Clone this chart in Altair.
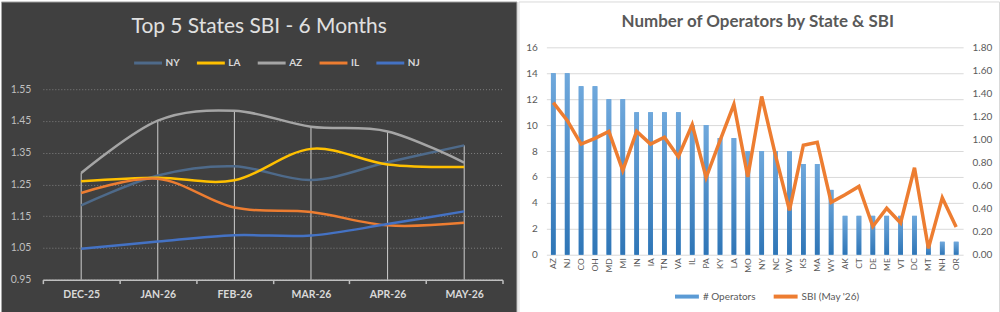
import altair as alt
import pandas as pd

FONT = "Lato"

# ---------------- Left panel data ----------------
months = ["DEC-25", "JAN-26", "FEB-26", "MAR-26", "APR-26", "MAY-26"]
top_states = ["NY", "LA", "AZ", "IL", "NJ"]
ny = [1.184, 1.278, 1.307, 1.264, 1.320, 1.373]
la = [1.260, 1.271, 1.263, 1.362, 1.313, 1.305]
az = [1.286, 1.451, 1.482, 1.432, 1.417, 1.319]
il = [1.223, 1.268, 1.177, 1.163, 1.121, 1.129]
nj = [1.047, 1.070, 1.090, 1.089, 1.125, 1.165]
top_colors = ["#4E6A8A", "#FFC000", "#A5A5A5", "#ED7D31", "#4472C4"]
left_ticks = [0.95, 1.05, 1.15, 1.25, 1.35, 1.45, 1.55]
left_title = "Top 5 States SBI - 6 Months"

# ---------------- Right panel data ----------------
states = ["AZ", "NJ", "CO", "OH", "MD", "MI", "IN", "IA", "TN", "VA", "IL", "PA", "KY", "LA", "MO",
          "NY", "NC", "WV", "KS", "MA", "WY", "AK", "CT", "DE", "ME", "VT", "DC", "MT", "NH", "OR"]
operators = [14, 14, 13, 13, 12, 12, 11, 11, 11, 11, 10, 10, 9, 9, 8,
             8, 8, 8, 7, 7, 5, 3, 3, 3, 3, 3, 3, 1, 1, 1]
sbi_may = [1.32, 1.165, 0.96, 1.01, 1.07, 0.73, 1.07, 0.96, 1.02, 0.85, 1.129, 0.67, 0.99, 1.305, 0.675,
           1.373, 0.86, 0.385, 0.95, 0.975, 0.455, 0.52, 0.593, 0.245, 0.403, 0.275, 0.755, 0.055, 0.495, 0.24]
ops_ticks = [0, 2, 4, 6, 8, 10, 12, 14, 16]
sbi_ticks = [0.0, 0.2, 0.4, 0.6, 0.8, 1.0, 1.2, 1.4, 1.6, 1.8]
legend_items = ["# Operators", "SBI (May '26)"]
legend_colors = ["#5B9BD5", "#ED7D31"]
right_title = "Number of Operators by State & SBI"

rows = []
for name, vals in zip(top_states, [ny, la, az, il, nj]):
    for m, v in zip(months, vals):
        rows.append({"Month": m, "State": name, "SBI": v})
trend = pd.DataFrame(rows)
ops_bar = pd.DataFrame({"State": states, "Operators": operators, "Series": legend_items[0]})
ops_line = pd.DataFrame({"State": states, "SBI": sbi_may, "Series": legend_items[1]})

# ---------------- Left chart ----------------
LW, LH = 517, 312
lx_scale = alt.Scale(type="band", domain=months, range=[42, 503], paddingInner=0, paddingOuter=0)
lx_axis = alt.Axis(orient="bottom", offset=-33, tickBand="extent", tickSize=4, tickColor="#BFBFBF",
                   domainColor="#BFBFBF", domainWidth=1.5, tickWidth=1.5, labelColor="#D9D9D9",
                   labelFont=FONT, labelFontSize=10.5, labelFontWeight="bold", labelPadding=6,
                   labelAngle=0, grid=False, title=None)
ly_scale = alt.Scale(domain=[0.95, 1.55], range=[279, 88], nice=False, zero=False)
ly_axis = alt.Axis(orient="left", offset=-30, values=left_ticks, format=".2f", domain=False, ticks=False,
                   labelPadding=0, labelColor="#BFBFBF", labelFont=FONT, labelFontSize=10.5,
                   grid=True, gridColor="#808080", gridDash=[1, 2], gridWidth=1, title=None)

drops = alt.Chart(trend).transform_aggregate(
    top="max(SBI)", groupby=["Month"]
).mark_rule(color="#CFCFCF", strokeWidth=1).encode(
    x=alt.X("Month:N", sort=months, scale=lx_scale, axis=lx_axis, bandPosition=0.5),
    y=alt.Y("top:Q", scale=ly_scale, axis=ly_axis),
    y2=alt.datum(0.95),
)

lines = alt.Chart(trend).mark_line(interpolate="cardinal", strokeWidth=2.5).encode(
    x=alt.X("Month:N", sort=months, scale=lx_scale, axis=lx_axis, bandPosition=0.5),
    y=alt.Y("SBI:Q", scale=ly_scale, axis=ly_axis),
    color=alt.Color("State:N", sort=top_states,
                    scale=alt.Scale(domain=top_states, range=top_colors),
                    legend=alt.Legend(orient="none", legendX=132, legendY=46, direction="horizontal",
                                      title=None, symbolType="stroke", symbolSize=784,
                                      symbolStrokeWidth=3, labelColor="#D9D9D9", labelFont=FONT,
                                      labelFontSize=10, labelFontWeight="bold", labelOffset=2,
                                      columnPadding=10)),
)

ltitle = alt.Chart(pd.DataFrame({"t": [left_title]})).mark_text(
    font=FONT, fontSize=21, color="#E0E0E0", align="center", baseline="middle"
).encode(text="t:N", x=alt.value(259), y=alt.value(26))

left = alt.layer(drops, lines, ltitle).properties(
    width=LW, height=LH,
    view=alt.ViewBackground(fill="#404040", stroke="#A6A6A6", strokeWidth=1),
)

# ---------------- Right chart ----------------
RW, RH = 482, 312
rx_scale = alt.Scale(type="band", domain=states, range=[28, 446], paddingInner=0.66, paddingOuter=0.33)
rx_axis = alt.Axis(orient="bottom", offset=-58, labelAngle=-90, labelPadding=3, ticks=False, domain=False,
                   grid=False, labelColor="#595959", labelFont=FONT, labelFontSize=8.5, title=None)
ops_scale = alt.Scale(domain=[0, 16], range=[254, 46], nice=False)
ops_axis = alt.Axis(orient="left", offset=-19, values=ops_ticks, labelPadding=0, ticks=False, domain=False,
                    grid=True, gridColor="#D9D9D9", gridWidth=1, labelColor="#595959", labelFont=FONT,
                    labelFontSize=10, title=None)
sbi_scale = alt.Scale(domain=[0, 1.8], range=[254, 46], nice=False)
sbi_axis = alt.Axis(orient="right", offset=-27, values=sbi_ticks, format=".2f", labelPadding=0, ticks=False,
                    domain=False, grid=False, labelColor="#595959", labelFont=FONT, labelFontSize=10,
                    title=None)
color_scale = alt.Scale(domain=legend_items, range=legend_colors)
r_legend = alt.Legend(orient="none", legendX=155, legendY=282, direction="horizontal", title=None,
                      symbolType="stroke", symbolSize=576, symbolStrokeWidth=4, labelColor="#595959",
                      labelFont=FONT, labelFontSize=10, labelOffset=2, columnPadding=10)

bars = alt.Chart(ops_bar).mark_bar().encode(
    x=alt.X("State:N", sort=states, scale=rx_scale, axis=rx_axis),
    y=alt.Y("Operators:Q", scale=ops_scale, axis=ops_axis),
    color=alt.Color("Series:N", scale=color_scale, legend=r_legend),
)
bars_grad = alt.Chart(ops_bar).mark_bar(
    color=alt.LinearGradient(gradient="linear",
                             stops=[alt.GradientStop(color="#6FA8DC", offset=0),
                                    alt.GradientStop(color="#2E75B6", offset=1)],
                             x1=0, x2=0, y1=0, y2=1)
).encode(
    x=alt.X("State:N", sort=states, scale=rx_scale, axis=rx_axis),
    y=alt.Y("Operators:Q", scale=ops_scale, axis=None),
)
sbi_line = alt.Chart(ops_line).mark_line(strokeWidth=3.5).encode(
    x=alt.X("State:N", sort=states, scale=rx_scale, axis=rx_axis, bandPosition=0.5),
    y=alt.Y("SBI:Q", scale=sbi_scale, axis=sbi_axis),
    color=alt.Color("Series:N", scale=color_scale, legend=r_legend),
)
rtitle = alt.Chart(pd.DataFrame({"t": [right_title]})).mark_text(
    font=FONT, fontSize=17, fontWeight="bold", color="#595959", align="center", baseline="middle"
).encode(text="t:N", x=alt.value(240), y=alt.value(21))

right = alt.layer(bars, bars_grad, sbi_line, rtitle).resolve_scale(y="independent").properties(
    width=RW, height=RH,
    view=alt.ViewBackground(fill="white", stroke="#D9D9D9", strokeWidth=1),
)

chart = alt.hconcat(left, right, spacing=0).resolve_scale(
    color="independent"
).resolve_legend(color="independent").properties(
    padding=0, background="white"
).configure(font=FONT)

chart.save("out.html", embed_options={"renderer": "svg", "actions": False})
